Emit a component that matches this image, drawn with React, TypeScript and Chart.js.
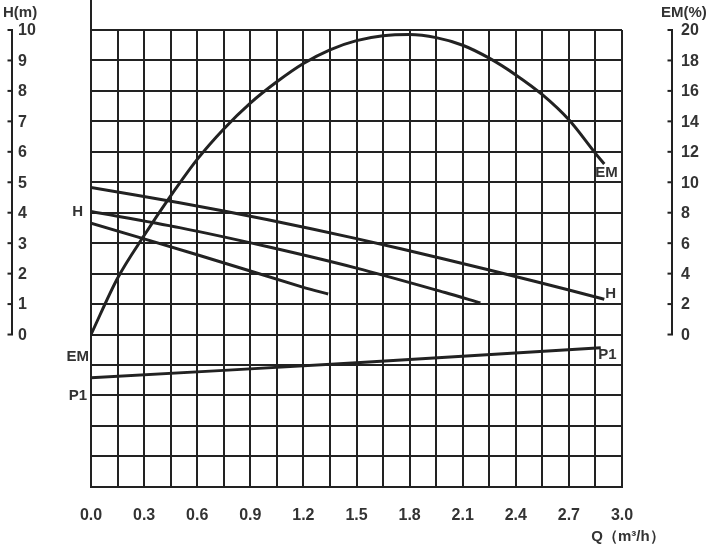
import React, { useEffect, useRef } from 'react';
import { Chart, registerables } from 'chart.js';

Chart.register(...registerables);

// ---- Data ----
const xTickLabels = ['0.0', '0.3', '0.6', '0.9', '1.2', '1.5', '1.8', '2.1', '2.4', '2.7', '3.0'];
const hTickLabels = ['0', '1', '2', '3', '4', '5', '6', '7', '8', '9', '10'];
const emTickLabels = ['0', '2', '4', '6', '8', '10', '12', '14', '16', '18', '20'];

// Efficiency curve EM (%), right axis
const emQ = [0, 0.15, 0.3, 0.45, 0.6, 0.75, 0.9, 1.05, 1.2, 1.35, 1.5, 1.65, 1.8, 1.95, 2.1, 2.25, 2.4, 2.55, 2.7, 2.85, 2.9];
const emValues = [0, 3.7, 6.5, 9.1, 11.5, 13.5, 15.2, 16.6, 17.8, 18.7, 19.3, 19.62, 19.7, 19.5, 19.0, 18.15, 17.05, 15.75, 14.1, 11.9, 11.2];

// Head curves H (m), left axis
const h1Q = [0, 0.5, 1.0, 1.5, 2.0, 2.5, 2.9];
const h1Values = [4.83, 4.33, 3.77, 3.15, 2.47, 1.76, 1.16];
const h2Q = [0, 0.5, 1.0, 1.5, 2.0, 2.2];
const h2Values = [4.04, 3.51, 2.88, 2.18, 1.38, 1.04];
const h3Q = [0, 0.6, 1.2, 1.34];
const h3Values = [3.66, 2.62, 1.55, 1.33];

// Power curve P1 (drawn in the lower, unlabelled band)
const p1Q = [0, 1.5, 2.88];
const p1Values = [-1.42, -0.93, -0.43];

// Curve name annotations
const curveLabels = [
  { text: 'H', q: 0, v: 4.03, dx: -8, align: 'right' },
  { text: 'EM', q: 0, v: -0.72, dx: -2, align: 'right' },
  { text: 'P1', q: 0, v: -2.03, dx: -4, align: 'right' },
  { text: 'EM', q: 2.9, v: 5.31, dx: -9, align: 'left' },
  { text: 'H', q: 2.9, v: 1.34, dx: 1, align: 'left' },
  { text: 'P1', q: 2.9, v: -0.66, dx: -6, align: 'left' },
];

const INK = '#222';
const TEXT = '#333';
const FONT = '"Liberation Sans", Arial, sans-serif';

const toPoints = (qs: number[], vs: number[]) => qs.map((q, i) => ({ x: q, y: vs[i] }));

const overlayPlugin = {
  id: 'overlay',
  afterDraw(chart: any) {
    const ctx = chart.ctx as CanvasRenderingContext2D;
    const xs = chart.scales.x;
    const ys = chart.scales.y;
    const y2 = chart.scales.y2;
    const area = chart.chartArea;
    ctx.save();
    ctx.strokeStyle = INK;
    ctx.lineWidth = 2;

    // vertical line above the grid (left frame extension)
    const x0 = xs.getPixelForValue(0);
    ctx.beginPath();
    ctx.moveTo(x0, 0);
    ctx.lineTo(x0, area.top);
    ctx.stroke();

    ctx.fillStyle = TEXT;
    ctx.textBaseline = 'middle';

    // Left H axis
    const lx = 12;
    ctx.beginPath();
    ctx.moveTo(lx, ys.getPixelForValue(0));
    ctx.lineTo(lx, ys.getPixelForValue(10));
    ctx.stroke();
    ctx.font = `bold 16px ${FONT}`;
    ctx.textAlign = 'left';
    hTickLabels.forEach((l) => {
      const py = ys.getPixelForValue(Number(l));
      ctx.beginPath();
      ctx.moveTo(lx - 4.5, py);
      ctx.lineTo(lx + 1, py);
      ctx.stroke();
      ctx.fillText(l, 18, py + 1);
    });
    ctx.font = `bold 15px ${FONT}`;
    ctx.fillText('H(m)', 3, 13);

    // Right EM axis
    const rx = 672;
    ctx.beginPath();
    ctx.moveTo(rx, y2.getPixelForValue(0));
    ctx.lineTo(rx, y2.getPixelForValue(20));
    ctx.stroke();
    ctx.font = `bold 16px ${FONT}`;
    emTickLabels.forEach((l) => {
      const py = y2.getPixelForValue(Number(l));
      ctx.beginPath();
      ctx.moveTo(rx - 4.5, py);
      ctx.lineTo(rx + 1, py);
      ctx.stroke();
      ctx.fillText(l, 681, py + 1);
    });
    ctx.font = `bold 15px ${FONT}`;
    ctx.fillText('EM(%)', 661, 13);

    // Curve labels
    ctx.font = `bold 15px ${FONT}`;
    curveLabels.forEach((c) => {
      ctx.textAlign = c.align as CanvasTextAlign;
      ctx.fillText(c.text, xs.getPixelForValue(c.q) + c.dx, ys.getPixelForValue(c.v));
    });

    // X axis title
    ctx.textAlign = 'center';
    ctx.font = `bold 15px ${FONT}`;
    ctx.fillText('Q（m³/h）', 628, 537);
    ctx.restore();
  },
};

export default function App() {
  const canvasRef = useRef<HTMLCanvasElement | null>(null);

  useEffect(() => {
    if (!canvasRef.current) return;
    const line = (data: { x: number; y: number }[], axis: string, tension: number, mono = false) => ({
      data,
      yAxisID: axis,
      borderColor: INK,
      borderWidth: 3,
      pointRadius: 0,
      fill: false,
      tension,
      cubicInterpolationMode: mono ? 'monotone' : 'default',
    });
    const chart = new Chart(canvasRef.current, {
      type: 'line',
      data: {
        datasets: [
          line(toPoints(emQ, emValues), 'y2', 0.4, true),
          line(toPoints(h1Q, h1Values), 'y', 0.3),
          line(toPoints(h2Q, h2Values), 'y', 0.3),
          line(toPoints(h3Q, h3Values), 'y', 0.2),
          line(toPoints(p1Q, p1Values), 'y', 0.2),
        ] as any,
      },
      options: {
        responsive: false,
        animation: false,
        events: [],
        layout: { padding: { left: 91, right: 93, top: 30, bottom: 0 } },
        plugins: { legend: { display: false }, tooltip: { enabled: false } },
        scales: {
          x: {
            type: 'linear',
            min: 0,
            max: 3,
            grid: { color: INK, lineWidth: 2, drawTicks: false },
            border: { display: true, color: INK, width: 2 },
            ticks: {
              stepSize: 0.15,
              autoSkip: false,
              maxRotation: 0,
              padding: 19,
              color: TEXT,
              font: { family: FONT, size: 16, weight: 'bold' },
              callback: (_v: any, i: number) => (i % 2 === 0 ? xTickLabels[i / 2] : ''),
            },
          },
          y: {
            type: 'linear',
            min: -5,
            max: 10,
            grid: { color: INK, lineWidth: 2, drawTicks: false },
            border: { display: true, color: INK, width: 2 },
            ticks: { display: false, stepSize: 1 },
          },
          y2: {
            type: 'linear',
            display: false,
            min: -10,
            max: 20,
          },
        } as any,
      },
      plugins: [overlayPlugin],
    });
    return () => chart.destroy();
  }, []);

  return (
    <div style={{ position: 'fixed', left: 0, top: 0, width: 715, height: 544, background: '#fff' }}>
      <canvas ref={canvasRef} width={715} height={544} style={{ display: 'block' }} />
    </div>
  );
}
